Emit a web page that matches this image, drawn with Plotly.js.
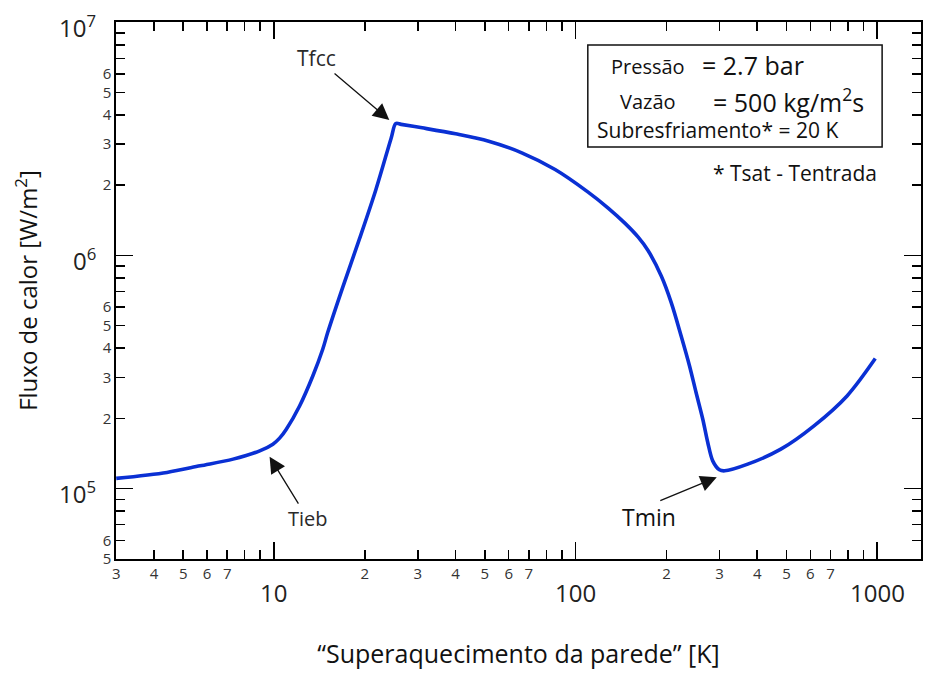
<!DOCTYPE html>
<html>
<head>
<meta charset="utf-8">
<script src="https://cdn.plot.ly/plotly-3.0.1.min.js"></script>
<style>html,body{margin:0;padding:0;background:#fff;}</style>
</head>
<body>
<div id="chart" style="width:925px;height:674px;"></div>
<script>
// ---- data ----
const wallSuperheat = [3, 4.42, 5.69, 7.32, 8.97, 9.92, 10.44, 10.99, 12.16, 13.45, 14.51, 15.07, 16.90, 19.18, 21.78, 24.46, 25.35, 26.41,
  31.0, 40.0, 51.5, 66.3, 85.5, 110, 128.2, 145.9, 161.0, 173.8, 192.3, 207.5, 223.8, 238.6, 250.8, 264.0, 274.2, 284.8, 299.7, 311.9,
  372, 479, 617, 794, 985];
const heatFlux = [1.106e5, 1.173e5, 1.252e5, 1.338e5, 1.452e5, 1.551e5, 1.646e5, 1.798e5, 2.262e5, 3.041e5, 3.958e5, 4.667e5, 7.295e5, 1.171e6, 1.918e6, 3.18e6, 3.675e6, 3.647e6,
  3.523e6, 3.32e6, 3.087e6, 2.753e6, 2.335e6, 1.868e6, 1.596e6, 1.372e6, 1.2e6, 1.05e6, 8.154e5, 6.272e5, 4.513e5, 3.357e5, 2.582e5, 1.984e5, 1.577e5, 1.315e5, 1.204e5, 1.192e5,
  1.273e5, 1.476e5, 1.858e5, 2.497e5, 3.61e5];

const xTickVals = [3,4,5,6,7,8,9,20,30,40,50,60,70,80,90,200,300,400,500,600,700,800,900];
const xTickText = ['3','4','5','6','7','','','2','3','4','5','6','7','','','2','3','4','5','6','7','',''];
const xDecadeVals = [10,100,1000];
const xDecadeText = ['10','100','1000'];

const yTickVals = [5e4,6e4,7e4,8e4,9e4,2e5,3e5,4e5,5e5,6e5,7e5,8e5,9e5,2e6,3e6,4e6,5e6,6e6,7e6,8e6,9e6];
const yTickText = ['5','6','','','','2','3','4','5','6','','','','2','3','4','5','6','','',''];
const yDecadeVals = [1e5,1e6,1e7];
const yDecadeText = ['10<sup>5</sup>','0<sup>6</sup>','10<sup>7</sup>'];

const xTitle = '“Superaquecimento da parede” [K]';
const yTitle = 'Fluxo de calor [W/m<sup>2</sup>]';

const boxLines = [
  {text:'Pressão', x:0.612, y:0.917, size:20},
  {text:'= 2.7 bar', x:0.726, y:0.919, size:25},
  {text:'Vazão', x:0.624, y:0.852, size:20},
  {text:'= 500 kg/m<sup>2</sup>s', x:0.739, y:0.854, size:25},
  {text:'Subresfriamento* = 20 K', x:0.595, y:0.799, size:21}
];
const noteText = '* Tsat - Tentrada';

const pointLabels = [
  {text:'Tfcc', size:21, color:'#2a2a2a', hx:0.3395, hy:0.8175, ax:-73, ay:-62},
  {text:'Tieb', size:20, color:'#2a2a2a', hx:0.1908, hy:0.1905, ax:38, ay:62}
];
const tminLabel = {text:'Tmin', size:23, color:'#111', x:0.6617, y:0.0788, hx:0.7463, hy:0.1521, ax:-58, ay:24};

// ---- figure ----
const FONT = 'Open Sans, "Noto Sans", sans-serif';
const trace = {
  x: wallSuperheat, y: heatFlux, type:'scatter', mode:'lines',
  line:{color:'#0a30d4', width:3.6, shape:'spline', smoothing:0.9},
  hoverinfo:'skip'
};

const annotations = [];
xDecadeVals.forEach((v,i)=>annotations.push({
  xref:'x', yref:'paper', x:Math.log10(v), y:-0.0615, text:xDecadeText[i],
  showarrow:false, xanchor:'center', yanchor:'middle', font:{size:24, color:'#222', family:FONT}
}));
yDecadeVals.forEach((v,i)=>annotations.push({
  xref:'paper', yref:'y', x:-0.022, y:Math.log10(v), yshift:-4, text:yDecadeText[i],
  showarrow:false, xanchor:'right', yanchor:'middle', font:{size:24, color:'#222', family:FONT}
}));
boxLines.forEach(b=>annotations.push({
  xref:'paper', yref:'paper', x:b.x, y:b.y, text:b.text, showarrow:false,
  xanchor:'left', yanchor:'middle', font:{size:b.size, color:'#111', family:FONT}
}));
annotations.push({xref:'paper', yref:'paper', x:0.739, y:0.719, text:noteText, showarrow:false,
  xanchor:'left', yanchor:'middle', font:{size:21, color:'#111', family:FONT}});
pointLabels.forEach(p=>annotations.push({
  xref:'paper', yref:'paper', x:p.hx, y:p.hy, text:p.text, showarrow:true,
  ax:p.ax, ay:p.ay, arrowhead:2, arrowsize:2.5, arrowwidth:1.3, arrowcolor:'#111',
  font:{size:p.size, color:p.color, family:FONT}
}));
annotations.push({xref:'paper', yref:'paper', x:tminLabel.x, y:tminLabel.y, text:tminLabel.text, showarrow:false,
  xanchor:'center', yanchor:'middle', font:{size:tminLabel.size, color:tminLabel.color, family:FONT}});
annotations.push({xref:'paper', yref:'paper', x:tminLabel.hx, y:tminLabel.hy, text:'', showarrow:true,
  ax:tminLabel.ax, ay:tminLabel.ay, arrowhead:2, arrowsize:2.5, arrowwidth:1.3, arrowcolor:'#111'});

const layout = {
  width:925, height:674,
  margin:{l:116, r:2, t:22, b:115, pad:0},
  paper_bgcolor:'#fff', plot_bgcolor:'#fff',
  font:{family:FONT, color:'#111'},
  showlegend:false,
  xaxis:{
    type:'log', range:[Math.log10(3)-0.0008, 3.145],
    tickmode:'array', tickvals:xTickVals, ticktext:xTickText,
    ticks:'inside', ticklen:9, tickwidth:1.5, tickcolor:'#000',
    tickfont:{size:15, color:'#333', family:FONT},
    minor:{tickmode:'array', tickvals:xDecadeVals, ticks:'inside', ticklen:17, tickwidth:1.6, tickcolor:'#000', showgrid:false},
    showline:true, linecolor:'#000', linewidth:1.6, mirror:'ticks',
    showgrid:false, zeroline:false, automargin:true,
    title:{text:xTitle, font:{size:25, color:'#111', family:FONT}, standoff:64}
  },
  yaxis:{
    type:'log', range:[Math.log10(5e4)-0.0008, 7.0008],
    tickmode:'array', tickvals:yTickVals, ticktext:yTickText,
    ticks:'inside', ticklen:9, tickwidth:1.5, tickcolor:'#000',
    tickfont:{size:15, color:'#333', family:FONT},
    minor:{tickmode:'array', tickvals:yDecadeVals, ticks:'inside', ticklen:17, tickwidth:1.6, tickcolor:'#000', showgrid:false},
    showline:true, linecolor:'#000', linewidth:1.6, mirror:'ticks',
    showgrid:false, zeroline:false, automargin:true,
    title:{text:yTitle, font:{size:24, color:'#111', family:FONT}, standoff:58}
  },
  shapes:[{type:'rect', xref:'paper', yref:'paper', x0:0.5861, x1:0.9517, y0:0.7672, y1:0.9572,
    line:{color:'#111', width:1.5}, fillcolor:'rgba(0,0,0,0)'}],
  annotations: annotations
};

Plotly.newPlot('chart', [trace], layout, {displayModeBar:false, staticPlot:true});
</script>
</body>
</html>
